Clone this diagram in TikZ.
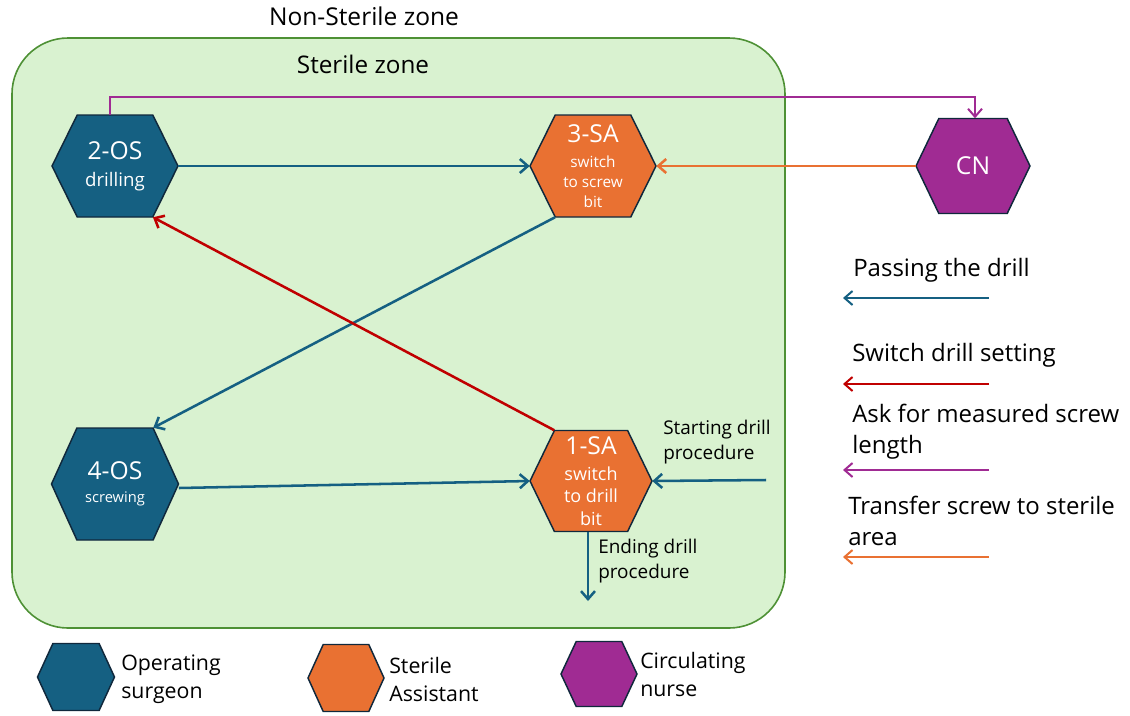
\documentclass[tikz,border=0pt]{standalone}
\usepackage{fontspec}
\setmainfont{Open Sans}
\usetikzlibrary{arrows.meta,calc}
\definecolor{osblue}{HTML}{156082}
\definecolor{saorange}{HTML}{E97132}
\definecolor{cnpurple}{HTML}{A02B93}
\definecolor{setred}{HTML}{C00000}
\definecolor{zonefill}{HTML}{D9F2D0}
\definecolor{zoneline}{HTML}{4E9135}
\definecolor{hexline}{HTML}{10283C}
\newcommand{\fs}[2]{\fontsize{#1}{#2}\selectfont}
\begin{document}
\begin{tikzpicture}[x=0.75pt,y=-0.75pt,>={Straight Barb[length=6pt,width=10.5pt]}]
  \tikzstyle{hexagon}=[draw=hexline,line width=1.1pt]
  \tikzstyle{role}=[inner sep=0pt,text=white,align=center]
  \tikzstyle{edge}=[->,line width=1.9pt]
  \tikzstyle{note}=[inner sep=0pt,anchor=west,align=left,font=\fs{18}{23}]
  \tikzstyle{steplbl}=[inner sep=0pt,anchor=west,align=left,font=\fs{14.2}{18.5}]
  \tikzstyle{keylbl}=[inner sep=0pt,anchor=west,align=left,font=\fs{16}{21}]
  \useasboundingbox (0,0) rectangle (1130,715);
  % sterile zone
  \draw[zoneline,fill=zonefill,line width=1.2pt,rounded corners=42pt] (12,38) rectangle (785,628);
  \node (nonsterile) at (364,16) {\fs{18.4}{20}Non-Sterile zone};
  \node (sterile) at (363,64) {\fs{18.2}{20}Sterile zone};
  % roles
  \foreach \nm/\cx/\cy/\w/\h/\col/\lh/\txt in {
      os2/115/166/126/102/osblue/20/{\fs{18.5}{22}2-OS\\\fs{14}{17}drilling},
      sa3/593/166/126/102/saorange/15/{\fs{18.5}{22}3-SA\\[3.5pt]\fs{11.5}{15}switch\\\fs{11.5}{15}to screw\\\fs{11.5}{15}bit},
      cn/973/166/114/95/cnpurple/20/{\fs{18.5}{22}CN},
      os4/115/484/127/112/osblue/17/{\fs{18.5}{22}4-OS\\\fs{11}{16}screwing},
      sa1/591/481/122/101/saorange/17/{\fs{18.5}{22}1-SA\\[2.5pt]\fs{13.5}{17}switch\\\fs{13.5}{17}to drill\\\fs{13.5}{17}bit},
      legos/76/677/77/67/osblue/20/{},
      legsa/346/678/76/67/saorange/20/{},
      legcn/599/674/76/65/cnpurple/20/{}}{
    \path[hexagon,fill=\col] ({\cx-\w/2},\cy) -- ({\cx-0.3*\w},{\cy-\h/2}) -- ({\cx+0.3*\w},{\cy-\h/2})
      -- ({\cx+\w/2},\cy) -- ({\cx+0.3*\w},{\cy+\h/2}) -- ({\cx-0.3*\w},{\cy+\h/2}) -- cycle;
    \node[role,font=\fs{10}{\lh},minimum width=\w*0.75pt,minimum height=\h*0.75pt] (\nm) at (\cx,\cy) {\txt};
  }
  % flows
  \coordinate (askbend) at (975,97);
  \coordinate (drillstart) at (766,480);
  \coordinate (drillend) at (588,601);
  \draw[edge,cnpurple,line width=1.5pt] ([xshift=-3.5pt]os2.north) |- (askbend) -- (cn.north -| askbend);
  \draw[edge,osblue] (os2.east) -- (sa3.west);
  \draw[edge,saorange] (cn.west) -- (sa3.east);
  \draw[edge,osblue] ($(sa3.south west)!0.2!(sa3.south east)$) -- ($(os4.north west)!0.8!(os4.north east)$);
  \draw[edge,setred] ($(sa1.north west)!0.2!(sa1.north east)$) -- ($(os2.south west)!0.8!(os2.south east)$);
  \draw[edge,osblue] ([yshift=-3pt]os4.east) -- (sa1.west);
  \draw[edge,osblue] (drillstart) -- (sa1.east);
  \draw[edge,osblue] (sa1.south -| drillend) -- (drillend);
  \node[steplbl] (startlbl) at (663,442) {Starting drill\\procedure};
  \node[steplbl] (endlbl) at (598,561) {Ending drill\\procedure};
  % arrow legend
  \foreach \i/\y/\col in {1/298/osblue,2/384/setred,3/470/cnpurple,4/557/saorange}{
    \coordinate (keyfrom\i) at (989,\y);
    \coordinate (keyto\i) at (843,\y);
    \draw[edge,\col,line width=1.5pt] (keyfrom\i) -- (keyto\i);
  }
  \node[note] (passlbl) at (853,270) {Passing the drill};
  \node[note] (switchlbl) at (852,355) {Switch drill setting};
  \node[note] (asklbl) at (852,432) {Ask for measured screw\\length};
  \node[note] (transferlbl) at (848,521) {Transfer screw to sterile\\area};
  % role legend
  \node[keylbl] (oslbl) at (121,679) {Operating\\surgeon};
  \node[keylbl] (salbl) at (389,679) {Sterile\\Assistant};
  \node[keylbl] (cnlbl) at (640,674) {Circulating\\nurse};
\end{tikzpicture}
\end{document}
